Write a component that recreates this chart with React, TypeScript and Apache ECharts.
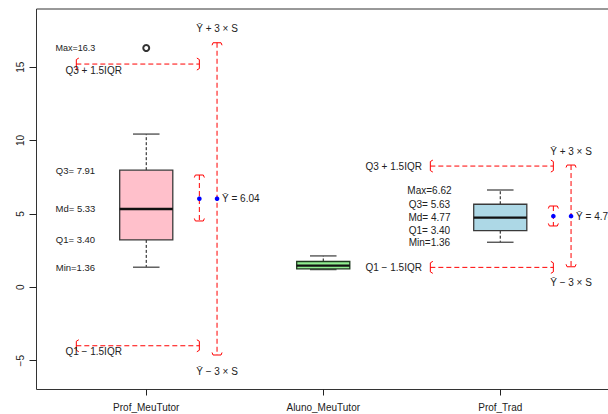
import React, { useEffect, useRef } from 'react';
import * as echarts from 'echarts';

// ---- data ----
const categories = ['Prof_MeuTutor', 'Aluno_MeuTutor', 'Prof_Trad'];
const xTicks = [1, 2, 3];
const yTicks = [-5, 0, 5, 10, 15];

const whiskerMin = [1.37, 1.21, 3.07];
const q1Values = [3.23, 1.26, 3.86];
const medianValues = [5.34, 1.48, 4.75];
const q3Values = [7.98, 1.76, 5.66];
const whiskerMax = [10.44, 2.14, 6.63];

const outlierCategory = [1];
const outlierValues = [16.3];

const annotatedCategory = [1, 3];
const meanValues = [6.04, 4.85];
const meanCiLow = [4.52, 4.18];
const meanCiHigh = [7.65, 5.54];
const meanMinus3S = [-4.61, 1.4];
const meanPlus3S = [16.66, 8.33];
const fenceLow = [-3.98, 1.36];
const fenceHigh = [15.21, 8.26];

const maxLabels = ['Max=16.3', 'Max=6.62'];
const q3Labels = ['Q3= 7.91', 'Q3= 5.63'];
const mdLabels = ['Md= 5.33', 'Md= 4.77'];
const q1Labels = ['Q1= 3.40', 'Q1= 3.40'];
const minLabels = ['Min=1.36', 'Min=1.36'];
const meanLabels = ['Ȳ = 6.04', 'Ȳ = 4.74'];
const fenceHighLabel = 'Q3 + 1.5IQR';
const fenceLowLabel = 'Q1 − 1.5IQR';
const plus3SLabel = 'Ȳ + 3 × S';
const minus3SLabel = 'Ȳ − 3 × S';

// ---- styling / layout constants ----
const FONT = 'Liberation Sans, Arial, Helvetica, sans-serif';
const boxFill = ['#FFC0CB', '#90EE90', '#ADD8E6'];
const boxStroke = ['#3a3a3a', '#1f3a1f', '#3a3a3a'];
const statFont = [9.5, 10];
const fenceLabelDx = [-0.297, -0.602];
const fenceLabelDy = [6, 0];
const RED = '#FF0000';

function txt(x: number, y: number, text: string, size: number, align: string) {
  return {
    type: 'text',
    x,
    y,
    style: {
      text,
      fill: '#222',
      fontSize: size,
      fontFamily: FONT,
      align,
      textAlign: align,
      verticalAlign: 'middle',
      textVerticalAlign: 'middle',
    },
  };
}

export default function App() {
  const ref = useRef<HTMLDivElement>(null);

  useEffect(() => {
    if (!ref.current) return;
    const chart = echarts.init(ref.current, null, { renderer: 'svg' });

    const boxData = categories.map((_, i) => [
      xTicks[i],
      whiskerMin[i],
      q1Values[i],
      medianValues[i],
      q3Values[i],
      whiskerMax[i],
    ]);

    const annData = annotatedCategory.map((c, i) => [
      c,
      meanValues[i],
      meanCiLow[i],
      meanCiHigh[i],
      meanMinus3S[i],
      meanPlus3S[i],
      fenceLow[i],
      fenceHigh[i],
    ]);

    const maxObs = (cat: number) => {
      let m = whiskerMax[cat - 1];
      outlierCategory.forEach((c, k) => {
        if (c === cat) m = Math.max(m, outlierValues[k]);
      });
      return m;
    };

    const renderBox = (params: any, api: any) => {
      const i = params.dataIndex;
      const x = api.value(0);
      const pLo = api.coord([x, api.value(1)]);
      const yQ1 = api.coord([x, api.value(2)])[1];
      const yMd = api.coord([x, api.value(3)])[1];
      const yQ3 = api.coord([x, api.value(4)])[1];
      const yHi = api.coord([x, api.value(5)])[1];
      const cx = pLo[0];
      const yLo = pLo[1];
      const hw = api.size([0.15, 0])[0];
      const chw = api.size([0.075, 0])[0];
      const edge = boxStroke[i];
      return {
        type: 'group',
        children: [
          { type: 'line', shape: { x1: cx, y1: yQ3, x2: cx, y2: yHi }, style: { stroke: '#111', lineWidth: 1, lineDash: [3, 2] } },
          { type: 'line', shape: { x1: cx, y1: yQ1, x2: cx, y2: yLo }, style: { stroke: '#111', lineWidth: 1, lineDash: [3, 2] } },
          { type: 'line', shape: { x1: cx - chw, y1: yHi, x2: cx + chw, y2: yHi }, style: { stroke: '#555', lineWidth: 1.4 } },
          { type: 'line', shape: { x1: cx - chw, y1: yLo, x2: cx + chw, y2: yLo }, style: { stroke: '#555', lineWidth: 1.4 } },
          { type: 'rect', shape: { x: cx - hw, y: yQ3, width: 2 * hw, height: yQ1 - yQ3 }, style: { fill: boxFill[i], stroke: edge, lineWidth: 1.3 } },
          { type: 'line', shape: { x1: cx - hw, y1: yMd, x2: cx + hw, y2: yMd }, style: { stroke: '#111', lineWidth: 2.4 } },
        ],
      };
    };

    const dashStyle = { stroke: RED, lineWidth: 1, lineDash: [5, 3], fill: 'none' };
    const capStyle = { stroke: RED, lineWidth: 1, fill: 'none' };

    const vCapTop = (x: number, y: number) => ({
      type: 'polyline',
      shape: { points: [[x - 5, y + 2.5], [x - 4, y], [x + 4, y], [x + 5, y + 2.5]] },
      style: capStyle,
    });
    const vCapBottom = (x: number, y: number) => ({
      type: 'polyline',
      shape: { points: [[x - 5, y - 2.5], [x - 4, y], [x + 4, y], [x + 5, y - 2.5]] },
      style: capStyle,
    });
    const hCapLeft = (x: number, y: number) => ({
      type: 'polyline',
      shape: { points: [[x + 2.5, y - 6], [x, y - 4.5], [x, y + 4.5], [x + 2.5, y + 6]] },
      style: capStyle,
    });
    const hCapRight = (x: number, y: number) => ({
      type: 'polyline',
      shape: { points: [[x - 2.5, y - 6], [x, y - 4.5], [x, y + 4.5], [x - 2.5, y + 6]] },
      style: capStyle,
    });

    const renderAnn = (params: any, api: any) => {
      const i = params.dataIndex;
      const x = api.value(0);
      const cat = x;
      const c = cat - 1;
      const Y = (v: number) => api.coord([x, v])[1];
      const X = (v: number) => api.coord([v, 0])[0];
      const yMean = Y(api.value(1));
      const yCiLo = Y(api.value(2));
      const yCiHi = Y(api.value(3));
      const ySLo = Y(api.value(4));
      const ySHi = Y(api.value(5));
      const yFLo = Y(api.value(6));
      const yFHi = Y(api.value(7));
      const xFence0 = X(x - 0.395);
      const xFence1 = X(x + 0.3);
      const xCi = X(x + 0.3);
      const xS = X(x + 0.4);
      const xStat = X(x - 0.4);
      const xFenceLbl = X(x + fenceLabelDx[i]);
      const fs = statFont[i];
      const children: any[] = [
        { type: 'line', shape: { x1: xFence0, y1: yFHi, x2: xFence1, y2: yFHi }, style: dashStyle },
        hCapLeft(xFence0, yFHi),
        hCapRight(xFence1, yFHi),
        { type: 'line', shape: { x1: xFence0, y1: yFLo, x2: xFence1, y2: yFLo }, style: dashStyle },
        hCapLeft(xFence0, yFLo),
        hCapRight(xFence1, yFLo),
        { type: 'line', shape: { x1: xCi, y1: yCiHi, x2: xCi, y2: yCiLo }, style: dashStyle },
        vCapTop(xCi, yCiHi),
        vCapBottom(xCi, yCiLo),
        { type: 'line', shape: { x1: xS, y1: ySHi, x2: xS, y2: ySLo }, style: dashStyle },
        vCapTop(xS, ySHi),
        vCapBottom(xS, ySLo),
        { type: 'circle', shape: { cx: xCi, cy: yMean, r: 2.3 }, style: { fill: '#0000FF' } },
        { type: 'circle', shape: { cx: xS, cy: yMean, r: 2.3 }, style: { fill: '#0000FF' } },
        txt(xS + 5, yMean, meanLabels[i], 10, 'left'),
        txt(xS, ySHi - 14, plus3SLabel, 10, 'center'),
        txt(xS, ySLo + 16, minus3SLabel, 10, 'center'),
        txt(xFenceLbl, yFHi + fenceLabelDy[i], fenceHighLabel, 10, 'center'),
        txt(xFenceLbl, yFLo + fenceLabelDy[i], fenceLowLabel, 10, 'center'),
        txt(xStat, Y(maxObs(cat)), maxLabels[i], i === 0 ? 9 : fs, 'center'),
        txt(xStat, Y(q3Values[c]), q3Labels[i], fs, 'center'),
        txt(xStat, Y(medianValues[c]), mdLabels[i], fs, 'center'),
        txt(xStat, Y(q1Values[c]), q1Labels[i], fs, 'center'),
        txt(xStat, Y(whiskerMin[c]), minLabels[i], fs, 'center'),
      ];
      return { type: 'group', children };
    };

    chart.setOption({
      animation: false,
      backgroundColor: '#ffffff',
      grid: {
        left: 36.5,
        top: 9,
        right: 6,
        bottom: 24.5,
        show: true,
        borderColor: '#333',
        borderWidth: 1,
        backgroundColor: 'transparent',
      },
      xAxis: {
        type: 'value',
        min: 0.38,
        max: 3.62,
        axisLine: { show: false, onZero: false },
        splitLine: { show: false },
        axisTick: { show: true, customValues: xTicks, length: 6, lineStyle: { color: '#222' } },
        axisLabel: {
          customValues: xTicks,
          formatter: (v: number) => categories[Math.round(v) - 1] ?? '',
          fontSize: 10,
          fontFamily: FONT,
          color: '#222',
          margin: 13,
        },
      },
      yAxis: {
        type: 'value',
        min: -6.96,
        max: 18.96,
        axisLine: { show: false, onZero: false },
        splitLine: { show: false },
        axisTick: { show: true, customValues: yTicks, length: 7, lineStyle: { color: '#222' } },
        axisLabel: {
          customValues: yTicks,
          rotate: 90,
          formatter: (v: number) => (v < 0 ? '−' + Math.abs(v) : String(v)),
          fontSize: 10,
          fontFamily: FONT,
          color: '#222',
          margin: 11,
        },
      },
      series: [
        {
          type: 'custom',
          renderItem: renderBox,
          data: boxData,
          encode: { x: 0, y: [1, 2, 3, 4, 5] },
          silent: true,
        },
        {
          type: 'scatter',
          data: outlierCategory.map((c, k) => [c, outlierValues[k]]),
          symbol: 'emptyCircle',
          symbolSize: 6,
          itemStyle: { color: '#000', borderColor: '#000', borderWidth: 1 },
          silent: true,
        },
        {
          type: 'custom',
          renderItem: renderAnn,
          data: annData,
          encode: { x: 0, y: [1, 2, 3, 4, 5, 6, 7] },
          silent: true,
        },
      ],
    });

    return () => chart.dispose();
  }, []);

  return (
    <div style={{ position: 'fixed', left: 0, top: 0, width: 608, height: 414, overflow: 'hidden', background: '#fff' }}>
      <div ref={ref} style={{ width: 616, height: 414 }} />
    </div>
  );
}
